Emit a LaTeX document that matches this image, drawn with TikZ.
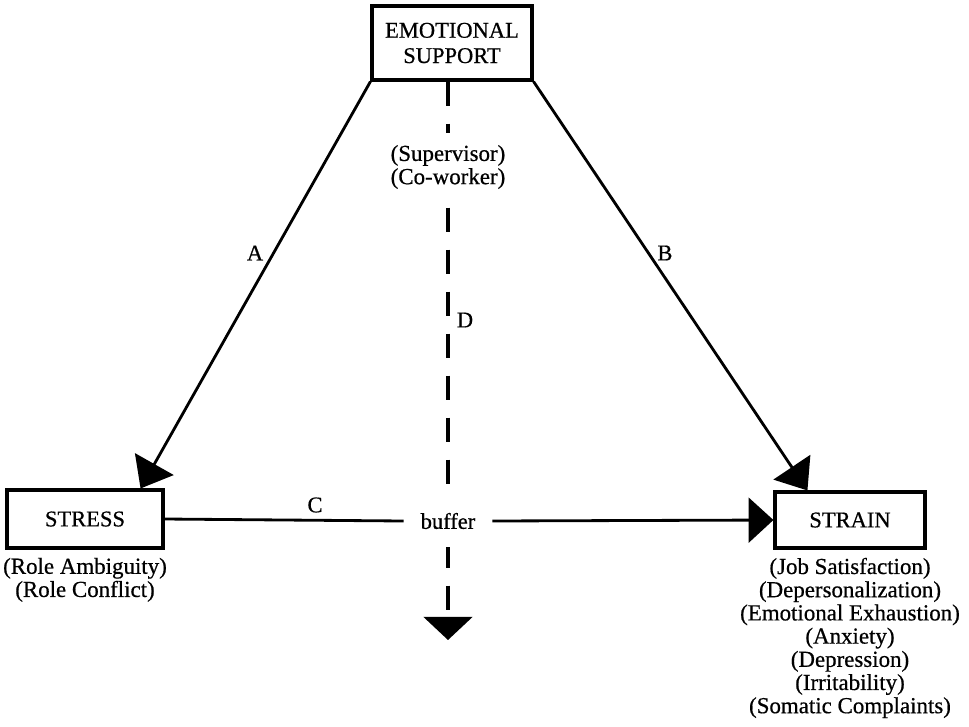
\documentclass[tikz,border=0pt]{standalone}
\usepackage{fontspec}
\setmainfont{Liberation Serif}[FakeBold=0.6]
\usetikzlibrary{positioning,arrows.meta}
\tikzset{box node/.style={rectangle, draw, line width=2.2pt, align=center, inner sep=0pt}, }
\tikzset{list node/.style={align=center, inner sep=0pt, font=\fontsize{16.3}{16.5}\selectfont}, }
\tikzset{big arrow/.style={line width=2pt, -{Triangle[length=0.7cm, width=1.1cm]}}, }
\tikzset{buffer line/.style={line width=2.2pt, dash pattern=on 0.6cm off 0.45cm}, }

\begin{document}
\begin{tikzpicture}[x=0.025cm, y=-0.025cm, font=\fontsize{16}{17}\selectfont]
	\useasboundingbox (0,0) rectangle (969,726);
	\node[box node, minimum width=4cm, minimum height=1.85cm] (support) at (452,43) {EMOTIONAL\\[1pt]SUPPORT};
	\node[box node, minimum width=3.9cm, minimum height=1.45cm] (stress) at (85,519) {STRESS};
	\node[box node, minimum width=3.75cm, minimum height=1.4cm] (strain) at (850,520) {STRAIN};
	\coordinate (dend) at (448,640);
	\draw[buffer line, -{Triangle[length=0.58cm, width=1.22cm]}] (support.south -| dend) -- (dend);
	\node[fill=white, inner xsep=0.42cm, inner ysep=0.45cm] (buffer) at (448,521) {buffer};
	\node[list node, fill=white, inner xsep=2pt, inner ysep=0.3cm] (sources) at (448,167) {(Supervisor)\\(Co-worker)};
	\node[list node, below=0.2cm of stress] (stresslist) {(Role Ambiguity)\\(Role Conflict)};
	\node[list node, below=0.2cm of strain] (strainlist) {(Job Satisfaction)\\(Depersonalization)\\(Emotional Exhaustion)\\(Anxiety)\\(Depression)\\(Irritability)\\(Somatic Complaints)};
	\node (alabel) at (255,253) {A};
	\node (blabel) at (665,253) {B};
	\node (clabel) at (315,505) {C};
	\node (dlabel) at (465,320) {D};
	\path
		(support.south west) edge[big arrow] ([xshift=-0.6cm]stress.north east)
		(support.south east) edge[big arrow] ([xshift=0.85cm]strain.north west)
		;
	\draw[line width=2pt] (stress.east) -- (buffer.west);
	\draw[line width=2pt, -{Triangle[length=0.62cm, width=1.12cm]}] (buffer.east) -- (strain.west);
\end{tikzpicture}
\end{document}
